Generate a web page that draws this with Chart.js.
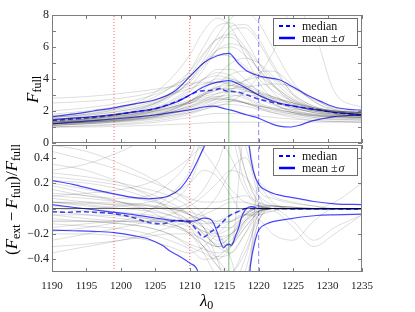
<!DOCTYPE html>
<html><head><meta charset="utf-8">
<script src="https://cdn.jsdelivr.net/npm/chart.js@4/dist/chart.umd.min.js"></script>
<style>
html,body{margin:0;padding:0;background:#fff;}
#wrap{position:relative;width:415px;height:312px;background:#fff;}
canvas{position:absolute;left:0;top:0;}
</style></head><body>
<div id="wrap"><canvas id="topc" width="415" height="312"></canvas><canvas id="botc" width="415" height="312"></canvas></div>
<script>
// ---------------- data ----------------
const X_TICKS = [1190,1195,1200,1205,1210,1215,1220,1225,1230,1235];
const TOP_TICKS = [0,1,2,3,4,5,6,7,8];
const BOT_TICKS = [-0.4,-0.2,0.0,0.2,0.4];
const VLINE_RED = [1199,1210];
const VLINE_GREEN = [1215.67];
const VLINE_BLUE = [1220];
const LEGEND_LABELS = ["median","mean \u00b1","\u03c3"];

// top panel blue curves
const TOP_UP_X = [1190,1193,1196,1199,1202,1205,1208,1210,1212,1214,1215.7,1217,1218.3,1220,1221,1223,1225,1227,1229,1231,1233,1235];
const TOP_UP_Y = [1.65,1.8,2.0,2.2,2.45,2.7,3.3,4.15,5.0,5.45,5.6,5.0,4.5,4.2,4.1,3.95,3.5,3.0,2.6,2.25,2.1,2.05];
const TOP_MEAN_X = [1190,1193,1196,1199,1202,1205,1208,1210,1212,1214,1215.7,1217,1218.3,1220,1221,1223,1225,1227,1229,1231,1233,1235];
const TOP_MEAN_Y = [1.45,1.55,1.65,1.78,1.95,2.15,2.55,3.0,3.5,3.8,3.9,3.7,3.4,2.98,2.8,2.5,2.32,2.15,2.05,1.92,1.83,1.75];
const TOP_MED_X = [1190,1193,1196,1199,1202,1205,1208.6,1210.5,1211.5,1213.4,1214.6,1215.1,1216.8,1218.3,1220.2,1223,1225,1227,1229,1231,1233,1235];
const TOP_MED_Y = [1.4,1.5,1.6,1.75,1.95,2.15,2.69,3.1,3.25,3.3,3.42,3.27,3.2,3.0,2.72,2.45,2.3,2.18,2.05,1.9,1.82,1.75];
const TOP_LOW_X = [1190,1193,1196,1199,1202,1205,1208,1210,1212,1213.4,1215,1216,1218.3,1220,1222,1223,1224.5,1226,1227.5,1229,1231,1233,1235];
const TOP_LOW_Y = [1.2,1.3,1.4,1.5,1.62,1.75,1.95,2.07,2.25,2.3,2.15,2.05,1.75,1.55,1.18,1.06,1.0,1.12,1.35,1.5,1.65,1.72,1.75];

// bottom panel blue curves
const BOT_UP_X = [1190,1193,1196,1199,1202,1204,1206,1207,1208.6,1210,1211.5,1212.3,1212.8,1218.3,1218.6,1219.2,1220,1221.2,1223,1226,1228,1231,1235];
const BOT_UP_Y = [0.22,0.19,0.15,0.115,0.085,0.076,0.085,0.1,0.157,0.26,0.42,0.52,0.65,0.7,0.5,0.3,0.19,0.14,0.105,0.076,0.055,0.037,0.03];
const BOT_MEAN_X = [1190,1193,1196,1199,1202,1205,1208,1210,1211,1212,1213,1213.5,1214,1214.5,1214.9,1215.3,1215.7,1216,1216.3,1216.6,1217.1,1217.5,1218,1218.5,1219,1220,1222,1225,1230,1235];
const BOT_MEAN_Y = [0.03,0.01,-0.01,-0.03,-0.05,-0.075,-0.095,-0.1,-0.095,-0.075,-0.085,-0.12,-0.19,-0.27,-0.31,-0.29,-0.28,-0.29,-0.27,-0.22,-0.15,-0.07,-0.015,0.01,0.015,0.0,0.0,-0.003,-0.005,-0.005];
const BOT_MED_X = [1190,1192,1194,1196,1199,1202,1204,1206,1208,1210,1211,1212,1213,1214,1215,1215.8,1216.8,1218.3,1220,1225,1235];
const BOT_MED_Y = [-0.025,-0.03,-0.025,-0.03,-0.04,-0.075,-0.11,-0.12,-0.095,-0.11,-0.17,-0.225,-0.185,-0.15,-0.094,-0.055,-0.03,0.0,0.0,-0.003,-0.005];
const BOT_LOW_X = [1190,1193,1196,1199,1202,1204,1206,1207,1208.6,1210,1211.2,1211.6,1218.5,1218.8,1219.5,1220,1221.2,1224,1228.4,1231,1235];
const BOT_LOW_Y = [-0.17,-0.175,-0.18,-0.19,-0.215,-0.24,-0.29,-0.33,-0.38,-0.43,-0.5,-0.62,-0.62,-0.45,-0.25,-0.17,-0.12,-0.086,-0.055,-0.05,-0.045];

// individual (grey) realisations, sampled at GREY_X
const GREY_X = [1190,1195,1200,1204,1207,1210,1212,1214,1216,1218,1220,1222,1225,1228,1231,1235];
const TOP_GREY = [
 [1.2,1.3,1.45,1.7,2.0,2.6,3.1,3.4,3.3,2.9,2.5,2.2,1.9,1.7,1.6,1.5],
 [1.3,1.45,1.7,2.0,2.5,3.3,4.0,4.4,4.2,3.5,2.8,2.4,2.0,1.8,1.7,1.6],
 [1.1,1.2,1.35,1.55,1.8,2.2,2.6,2.9,3.0,2.8,2.4,2.1,1.8,1.6,1.5,1.45],
 [1.5,1.7,2.0,2.4,3.0,4.2,5.5,6.5,6.8,6.0,4.5,3.2,2.3,1.9,1.8,1.7],
 [1.4,1.6,1.9,2.3,2.9,3.9,5.0,6.2,7.3,7.4,6.5,5.0,3.0,2.2,1.9,1.8],
 [1.0,1.1,1.2,1.35,1.5,1.8,2.1,2.35,2.4,2.3,2.1,1.9,1.7,1.5,1.45,1.4],
 [2.8,2.9,3.1,3.3,3.5,3.7,3.8,3.8,3.6,3.3,3.0,2.7,2.3,2.0,1.9,1.8],
 [1.3,1.5,1.8,2.2,2.8,3.9,5.2,6.7,7.8,8.2,7.5,6.0,3.8,2.6,2.1,1.9],
 [1.6,1.8,2.1,2.5,3.0,3.6,4.0,4.2,4.0,3.6,3.2,2.9,2.5,2.2,2.0,1.9],
 [1.2,1.3,1.5,1.7,2.0,2.5,3.0,3.5,3.8,3.7,3.3,2.9,2.4,2.0,1.8,1.7],
 [1.1,1.25,1.4,1.6,1.9,2.4,3.0,3.7,4.3,4.5,4.2,3.6,2.7,2.1,1.8,1.7],
 [1.7,1.9,2.2,2.7,3.4,4.5,5.6,6.5,6.6,5.8,4.6,3.6,2.6,2.1,1.9,1.8],
 [1.25,1.35,1.5,1.7,1.95,2.3,2.6,2.75,2.7,2.5,2.3,2.1,1.9,1.75,1.65,1.6],
 [1.4,1.5,1.7,1.9,2.2,2.6,2.9,3.1,3.2,3.2,3.1,2.9,2.5,2.1,1.9,1.8],
 [1.2,1.35,1.6,1.9,2.4,3.2,4.0,4.6,4.6,4.0,3.2,2.5,1.9,1.6,1.5,1.5],
 [1.5,1.6,1.8,2.0,2.3,2.7,3.0,3.3,3.6,3.9,4.1,4.0,3.4,2.7,2.2,1.9],
 [1.0,1.05,1.15,1.25,1.4,1.6,1.75,1.85,1.85,1.8,1.7,1.6,1.5,1.4,1.35,1.3],
 [1.3,1.4,1.55,1.75,2.05,2.6,3.3,4.2,5.0,5.3,5.0,4.2,3.0,2.3,2.0,1.8],
 [2.0,2.2,2.5,2.9,3.4,4.2,5.0,5.5,5.4,4.8,4.0,3.3,2.6,2.2,2.0,1.9],
 [1.1,1.2,1.35,1.5,1.7,2.0,2.3,2.6,2.9,3.0,2.9,2.6,2.2,1.9,1.7,1.6],
 [1.3,1.4,1.6,1.8,2.1,2.5,2.8,2.9,2.8,2.5,2.2,2.0,1.8,1.7,1.65,1.6],
 [1.6,1.75,2.0,2.35,2.9,3.8,4.8,5.8,6.2,5.9,5.0,4.0,2.8,2.2,1.9,1.8],
 [1.2,1.3,1.45,1.65,1.9,2.3,2.7,3.1,3.4,3.5,3.6,3.7,3.5,2.8,2.1,1.8],
 [1.35,1.5,1.7,2.0,2.4,3.0,3.6,4.0,4.0,3.6,3.0,2.5,2.0,1.75,1.65,1.6],
 [1.15,1.25,1.4,1.6,1.85,2.2,2.5,2.7,2.7,2.55,2.35,2.15,1.9,1.7,1.6,1.55],
 [1.8,2.0,2.3,2.6,3.0,3.4,3.7,3.8,3.7,3.4,3.1,2.8,2.4,2.1,1.95,1.85],
 [1.4,1.55,1.8,2.1,2.6,3.5,4.6,5.9,7.0,7.2,6.3,4.8,3.1,2.3,2.0,1.9],
 [1.3,1.45,1.65,1.9,2.2,2.6,3.0,3.3,3.4,3.3,3.0,2.8,2.5,2.2,2.0,1.9],
 [1.2,1.3,1.4,1.55,1.7,1.9,2.1,2.3,2.6,3.2,4.2,5.6,8.3,7.0,3.2,2.2],
 [1.5,1.6,1.75,1.95,2.2,2.5,2.7,2.8,2.7,2.5,2.3,2.2,2.1,2.0,1.95,1.9],
 [1.0,1.0,1.05,1.1,1.15,1.2,1.25,1.3,1.3,1.3,1.3,1.3,1.3,1.3,1.3,1.3],
 [1.3,1.5,1.8,2.3,3.0,4.5,6.0,7.3,7.5,6.5,5.0,3.7,2.5,2.0,1.8,1.7],
 [2.5,2.6,2.8,3.1,3.5,4.2,5.0,5.8,6.0,5.5,4.6,3.7,2.7,2.2,2.0,1.9],
 [1.1,1.2,1.3,1.45,1.6,1.9,2.2,2.5,2.6,2.5,2.2,1.9,1.6,1.4,1.35,1.3],
 [1.25,1.4,1.6,1.85,2.15,2.6,3.1,3.5,3.6,3.4,3.0,2.6,2.2,1.9,1.75,1.7],
 [1.6,1.8,2.2,2.9,3.9,5.5,7.0,7.8,7.2,5.5,3.8,2.8,2.1,1.8,1.7,1.65],
 [1.2,1.3,1.45,1.6,1.8,2.1,2.4,2.8,3.3,3.9,4.4,4.5,3.6,2.6,2.0,1.75]
];
const BOT_GREY = [
 [0.2,0.15,0.1,0.06,0.02,-0.05,-0.15,-0.3,-0.2,-0.05,0.0,0.0,0.0,0.0,0.0,0.0],
 [-0.1,-0.1,-0.12,-0.15,-0.2,-0.3,-0.35,-0.4,-0.3,-0.1,-0.01,0.0,0.0,0.0,0.0,0.0],
 [0.05,0.02,0.0,0.0,0.05,0.2,0.5,0.9,0.8,0.3,0.05,0.02,0.01,0.0,0.0,0.0],
 [0.25,0.22,0.18,0.12,0.05,-0.05,-0.15,-0.25,-0.2,-0.08,0.0,0.02,0.01,0.0,0.0,0.0],
 [-0.05,-0.08,-0.1,-0.12,-0.14,-0.2,-0.3,-0.45,-0.6,-0.4,-0.05,0.0,0.0,0.0,0.0,0.0],
 [0.45,0.38,0.3,0.22,0.15,0.08,0.05,0.05,0.08,0.1,0.05,0.02,0.0,0.0,0.0,0.0],
 [-0.2,-0.2,-0.22,-0.25,-0.3,-0.35,-0.3,-0.2,-0.1,-0.03,0.0,0.0,0.0,0.0,0.0,0.0],
 [0.1,0.08,0.05,0.02,-0.02,-0.1,-0.2,-0.3,-0.35,-0.2,-0.02,0.0,0.0,0.0,0.0,0.0],
 [0.0,-0.02,-0.05,-0.08,-0.12,-0.18,-0.25,-0.3,-0.28,-0.15,-0.03,0.0,0.0,0.0,0.0,0.0],
 [0.15,0.1,0.08,0.1,0.2,0.4,0.7,0.9,0.7,0.3,0.05,0.0,0.0,0.0,0.0,0.0],
 [-0.3,-0.28,-0.25,-0.22,-0.2,-0.2,-0.25,-0.3,-0.25,-0.1,-0.02,0.0,0.0,0.0,0.0,0.0],
 [0.05,0.03,0.0,-0.02,-0.05,-0.1,-0.12,-0.1,-0.05,0.0,0.02,0.02,0.01,0.0,0.0,0.0],
 [0.3,0.35,0.45,0.55,0.6,0.55,0.45,0.3,0.15,0.05,0.02,0.0,0.0,0.0,0.0,0.0],
 [-0.15,-0.12,-0.1,-0.1,-0.12,-0.2,-0.35,-0.55,-0.7,-0.5,-0.1,0.0,0.0,0.0,0.0,0.0],
 [0.02,0.0,-0.03,-0.05,-0.08,-0.12,-0.18,-0.22,-0.2,-0.1,-0.02,0.0,-0.1,-0.25,-0.15,-0.05],
 [0.1,0.12,0.15,0.2,0.28,0.4,0.5,0.55,0.4,0.15,0.02,0.0,0.0,0.0,0.0,0.0],
 [-0.08,-0.1,-0.12,-0.15,-0.2,-0.28,-0.32,-0.35,-0.3,-0.15,-0.03,0.0,0.0,0.0,0.05,0.2],
 [0.22,0.2,0.15,0.08,0.0,-0.1,-0.2,-0.28,-0.22,-0.05,0.02,0.02,0.01,0.0,0.0,0.0],
 [-0.02,-0.05,-0.08,-0.1,-0.1,-0.08,-0.02,0.1,0.3,0.4,0.2,0.05,0.0,0.0,0.0,0.0],
 [0.35,0.3,0.2,0.1,0.0,-0.15,-0.3,-0.45,-0.5,-0.3,-0.05,0.0,0.0,0.0,0.0,0.0],
 [-0.12,-0.14,-0.16,-0.2,-0.25,-0.32,-0.4,-0.38,-0.28,-0.12,-0.02,0.0,0.0,0.0,0.0,0.0],
 [0.08,0.05,0.02,0.0,0.0,0.05,0.15,0.35,0.6,0.5,0.1,0.0,0.0,0.0,0.0,0.0],
 [-0.25,-0.2,-0.15,-0.1,-0.05,0.02,0.1,0.2,0.3,0.25,0.1,0.03,0.0,0.0,0.0,0.0],
 [0.12,0.1,0.05,0.0,-0.05,-0.12,-0.18,-0.2,-0.15,-0.05,0.0,0.0,0.0,0.0,0.0,0.0],
 [-0.05,-0.05,-0.06,-0.08,-0.1,-0.15,-0.25,-0.4,-0.5,-0.35,-0.08,-0.02,-0.15,-0.3,-0.2,-0.05],
 [0.0,0.0,0.02,0.05,0.1,0.2,0.3,0.25,0.1,-0.05,-0.05,-0.02,0.0,0.0,0.0,0.0],
 [0.18,0.12,0.05,-0.02,-0.1,-0.2,-0.3,-0.38,-0.35,-0.2,-0.05,0.0,0.0,0.0,0.0,0.0],
 [-0.35,-0.3,-0.25,-0.2,-0.15,-0.1,-0.05,0.0,0.05,0.05,0.02,0.0,0.0,0.0,0.0,0.0],
 [0.5,0.45,0.35,0.25,0.15,0.05,-0.05,-0.15,-0.15,-0.05,0.0,0.0,0.0,0.0,0.0,0.0],
 [0.05,0.05,0.04,0.03,0.0,-0.05,-0.1,-0.12,-0.1,-0.05,-0.02,0.0,0.0,0.0,0.0,0.0],
 [0.0,0.0,0.0,0.0,0.0,-0.05,-0.1,-0.2,-0.4,-0.8,0.2,0.1,0.05,0.02,0.0,0.0],
 [-0.1,-0.1,-0.1,-0.1,-0.1,-0.1,-0.15,-0.2,-0.3,0.6,0.15,0.08,0.04,0.02,0.0,0.0],
 [0.05,0.04,0.03,0.02,0.0,-0.03,-0.06,-0.1,-0.1,-0.05,-0.08,-0.2,-0.25,-0.1,0.0,0.0],
 [-0.18,-0.15,-0.1,-0.02,0.1,0.3,0.6,0.8,0.6,0.2,0.03,0.0,0.0,0.0,0.0,0.0],
 [0.28,0.25,0.2,0.15,0.1,0.0,-0.15,-0.4,-0.7,-0.6,-0.1,0.0,0.0,0.0,0.0,0.0]
];

// ---------------- styles ----------------
const SERIF = "'Liberation Serif', 'DejaVu Serif', serif";
const FRAME = 'rgb(125,125,125)';
const BLUE = 'rgba(0,0,255,0.72)';
const GREY = 'rgba(0,0,0,0.15)';

function pts(xs, ys){ return xs.map((x,i)=>({x:x, y:ys[i]})); }
function greySets(rows){
  return rows.map(r=>({data:pts(GREY_X,r), borderColor:GREY, borderWidth:0.9, pointRadius:0, cubicInterpolationMode:'monotone', clip:0}));
}
function vlines(lo, hi){
  const out=[];
  VLINE_RED.forEach(v=>out.push({data:[{x:v,y:lo},{x:v,y:hi}], borderColor:'rgba(255,40,40,0.7)', borderWidth:1, borderDash:[1,2], pointRadius:0, clip:0}));
  VLINE_GREEN.forEach(v=>out.push({data:[{x:v,y:lo},{x:v,y:hi}], borderColor:'rgba(40,150,40,0.65)', borderWidth:1, pointRadius:0, clip:0}));
  VLINE_BLUE.forEach(v=>out.push({data:[{x:v,y:lo},{x:v,y:hi}], borderColor:'rgba(60,60,255,0.6)', borderWidth:1, borderDash:[5,3], pointRadius:0, clip:0}));
  return out;
}
function blue(xs, ys, dashed){
  return {data:pts(xs,ys), borderColor:BLUE, borderWidth: dashed?1.6:1.2, borderDash: dashed?[5,3]:[], pointRadius:0, cubicInterpolationMode:'monotone', clip:0, spanGaps:false};
}

function drawRich(ctx, parts, x0, y0, rot){
  ctx.save(); ctx.translate(x0, y0); ctx.rotate(rot);
  ctx.textBaseline='alphabetic'; ctx.fillStyle='#000';
  let x=0;
  for(const p of parts){ ctx.font=p.f; ctx.fillText(p.t, x, p.dy||0); x+=ctx.measureText(p.t).width + (p.gap||0); }
  ctx.restore();
}

const framePlugin = {
  id:'frame',
  afterDraw(chart, args, opts){
    const {ctx, chartArea:a, scales} = chart;
    ctx.save();
    ctx.strokeStyle=FRAME; ctx.lineWidth=1;
    ctx.beginPath();
    for(const v of X_TICKS){ const px=Math.round(scales.x.getPixelForValue(v))+0.5; ctx.moveTo(px,a.top); ctx.lineTo(px,a.top+4); ctx.moveTo(px,a.bottom); ctx.lineTo(px,a.bottom-4); }
    for(const v of opts.yticks){ const py=Math.round(scales.y.getPixelForValue(v))+0.5; ctx.moveTo(a.left,py); ctx.lineTo(a.left+4,py); ctx.moveTo(a.right,py); ctx.lineTo(a.right-4,py); }
    ctx.stroke();
    ctx.strokeRect(Math.round(a.left)+0.5, Math.round(a.top)+0.5, Math.round(a.width)-1, Math.round(a.height)-1);
    // legend
    const bx=a.right-89, by=a.top+3, bw=84, bh=27;
    ctx.fillStyle='#fff'; ctx.fillRect(bx,by,bw,bh);
    ctx.strokeStyle='rgb(110,110,110)'; ctx.strokeRect(bx+0.5,by+0.5,bw,bh);
    ctx.strokeStyle='rgb(0,0,255)';
    ctx.lineWidth=2; ctx.setLineDash([4,3]);
    ctx.beginPath(); ctx.moveTo(bx+6,by+8); ctx.lineTo(bx+22,by+8); ctx.stroke();
    ctx.setLineDash([]); ctx.lineWidth=2.5;
    ctx.beginPath(); ctx.moveTo(bx+6,by+20); ctx.lineTo(bx+22,by+20); ctx.stroke();
    ctx.fillStyle='#111'; ctx.textBaseline='alphabetic';
    ctx.font='12px '+SERIF; ctx.fillText(LEGEND_LABELS[0], bx+29, by+12);
    ctx.fillText(LEGEND_LABELS[1], bx+29, by+24);
    const w=ctx.measureText(LEGEND_LABELS[1]).width;
    ctx.font='italic 12px '+SERIF; ctx.fillText(LEGEND_LABELS[2], bx+29+w+1, by+24);
    ctx.restore();
    if(opts.title) opts.title(ctx);
  }
};

function yScale(min,max,ticks,fmt,size){
  return {type:'linear', min:min, max:max,
    afterBuildTicks: s=>{ s.ticks = ticks.map(v=>({value:v})); },
    afterFit: s=>{ s.width=52; },
    grid:{display:false, drawTicks:false}, border:{display:false},
    ticks:{font:{family:SERIF,size:size}, color:'#222', padding:3, callback:fmt}};
}

Chart.defaults.animation=false;
Chart.defaults.responsive=false;
Chart.defaults.plugins.legend.display=false;
Chart.defaults.plugins.tooltip.enabled=false;
Chart.defaults.elements.line.tension=0;

new Chart(document.getElementById('topc'), {
  type:'line',
  data:{datasets:[...greySets(TOP_GREY),
    blue(TOP_UP_X,TOP_UP_Y,false), blue(TOP_MEAN_X,TOP_MEAN_Y,false), blue(TOP_MED_X,TOP_MED_Y,true), blue(TOP_LOW_X,TOP_LOW_Y,false),
    ...vlines(0,8)]},
  options:{devicePixelRatio:1, layout:{padding:{top:15,bottom:169,left:0,right:53}},
    scales:{
      x:{type:'linear', min:1190, max:1235, display:false},
      y:yScale(0,8,TOP_TICKS,v=>String(v),12)
    },
    plugins:{frame:{yticks:TOP_TICKS, title:(ctx)=>{
      drawRich(ctx,[{t:'F',f:'italic 17px '+SERIF},{t:'full',f:'12px '+SERIF,dy:3}],37.5,103,-Math.PI/2);
    }}}
  },
  plugins:[framePlugin]
});

new Chart(document.getElementById('botc'), {
  type:'line',
  data:{datasets:[...greySets(BOT_GREY),
    {data:[{x:1190,y:0},{x:1235,y:0}], borderColor:'rgba(0,0,0,0.5)', borderWidth:1, pointRadius:0, clip:0},
    blue(BOT_UP_X,BOT_UP_Y,false), blue(BOT_MEAN_X,BOT_MEAN_Y,false), blue(BOT_MED_X,BOT_MED_Y,true), blue(BOT_LOW_X,BOT_LOW_Y,false),
    ...vlines(-0.5,0.5)]},
  options:{devicePixelRatio:1, layout:{padding:{top:145,bottom:0,left:0,right:53}},
    scales:{
      x:{type:'linear', min:1190, max:1235,
        afterBuildTicks: s=>{ s.ticks = X_TICKS.map(v=>({value:v})); },
        afterFit: s=>{ s.height=40; },
        grid:{display:false, drawTicks:false}, border:{display:false},
        ticks:{font:{family:SERIF,size:11}, color:'#222', padding:8, maxRotation:0, callback:v=>String(v)}},
      y:yScale(-0.5,0.5,BOT_TICKS,v=>v.toFixed(1).replace('-','\u2212'),12)
    },
    plugins:{frame:{yticks:BOT_TICKS, title:(ctx)=>{
      const big='italic 17px '+SERIF, rm='17px '+SERIF, sub='12px '+SERIF;
      drawRich(ctx,[{t:'(',f:rm},{t:'F',f:big},{t:'ext',f:sub,dy:3,gap:3},{t:'\u2212',f:rm,gap:3},{t:'F',f:big},{t:'full',f:sub,dy:3},{t:')/',f:rm},{t:'F',f:big},{t:'full',f:sub,dy:3}],17,255,-Math.PI/2);
      drawRich(ctx,[{t:'\u03bb',f:'italic 17px '+SERIF},{t:'0',f:'12px '+SERIF,dy:3}],200,306,0);
    }}}
  },
  plugins:[framePlugin]
});
</script>
</body></html>
